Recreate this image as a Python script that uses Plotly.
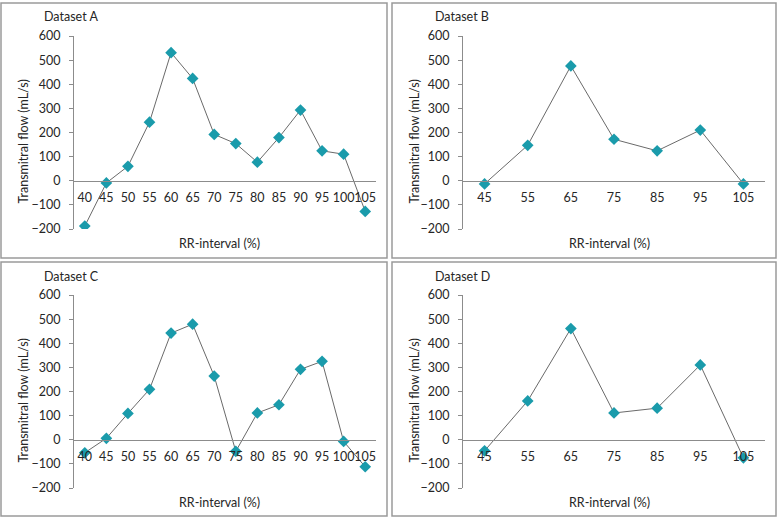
import plotly.graph_objects as go

# ---- data ----
rr_ac = ["40", "45", "50", "55", "60", "65", "70", "75", "80", "85", "90", "95", "100", "105"]
rr_bd = ["45", "55", "65", "75", "85", "95", "105"]

flow_a = [-188, -9, 60, 243, 531, 424, 192, 154, 77, 179, 293, 124, 110, -127]
flow_b = [-13, 147, 476, 172, 124, 210, -13]
flow_c = [-54, 6, 109, 209, 442, 479, 264, -48, 111, 145, 292, 325, -7, -112]
flow_d = [-46, 161, 461, 111, 131, 310, -75]

titles = ["Dataset A", "Dataset B", "Dataset C", "Dataset D"]
y_ticks = [-200, -100, 0, 100, 200, 300, 400, 500, 600]

W, H = 779, 519
FONT = "Lato"
GRAY = "#8c8c8c"
TXT = "#262626"

def px(x):
    return x / W

def py(y):
    return 1 - y / H

# panel layout in pixels: (box, plot area)
panels = [
    dict(box=(1, 3, 387, 258), plot=(74, 36, 376, 229), x=rr_ac, y=flow_a),
    dict(box=(392, 3, 776, 258), plot=(463, 36, 765, 229), x=rr_bd, y=flow_b),
    dict(box=(1, 262, 387, 516), plot=(74, 295, 376, 488), x=rr_ac, y=flow_c),
    dict(box=(392, 262, 776, 516), plot=(463, 295, 765, 488), x=rr_bd, y=flow_d),
]

fig = go.Figure()
shapes = []
annotations = []
ymin, ymax = -200, 600

for i, p in enumerate(panels):
    n = i + 1
    xa = "x" if n == 1 else f"x{n}"
    ya = "y" if n == 1 else f"y{n}"
    x0, y0, x1, y1 = p["plot"]
    ydom = [py(y1), py(y0)]
    xdom = [px(x0), px(x1)]
    zero_pos = ydom[0] + (ydom[1] - ydom[0]) * (0 - ymin) / (ymax - ymin)

    fig.add_trace(go.Scatter(
        x=p["x"], y=p["y"], xaxis=xa, yaxis=ya, mode="lines+markers",
        line=dict(color="#6a6a6a", width=1),
        marker=dict(symbol="diamond", size=9, color="#1a9bab"),
        showlegend=False, hoverinfo="x+y",
    ))

    xkey = "xaxis" if n == 1 else f"xaxis{n}"
    ykey = "yaxis" if n == 1 else f"yaxis{n}"
    fig.update_layout({
        xkey: dict(
            domain=xdom, type="category", range=[-0.5, len(p["x"]) - 0.5],
            anchor="free", position=zero_pos, showline=True, linecolor=GRAY,
            linewidth=1, ticks="", showgrid=False, zeroline=False,
            tickangle=0, ticklabelstandoff=5,
            tickfont=dict(family=FONT, size=12.5, color=TXT), automargin=False,
        ),
        ykey: dict(
            domain=ydom, range=[ymin, ymax], tickvals=y_ticks,
            anchor=xa, showline=True, linecolor=GRAY, linewidth=1,
            ticks="outside", ticklen=4, tickcolor=GRAY, showgrid=False,
            ticklabelstandoff=6,
            zeroline=False, tickfont=dict(family=FONT, size=12.5, color=TXT),
            automargin=False,
        ),
    })

    bx0, by0, bx1, by1 = p["box"]
    shapes.append(dict(
        type="rect", xref="paper", yref="paper",
        x0=px(bx0), x1=px(bx1), y0=py(by1), y1=py(by0),
        line=dict(color="#9a9a9a", width=1.5), fillcolor="rgba(0,0,0,0)",
    ))
    annotations.append(dict(
        text=titles[i], xref="paper", yref="paper",
        x=px(bx0 + 41), y=py(by0 + 14), xanchor="left", yanchor="middle",
        showarrow=False, font=dict(family=FONT, size=12.5, color=TXT),
    ))
    annotations.append(dict(
        text="RR-interval (%)", xref="paper", yref="paper",
        x=px((x0 + x1) / 2 - 5), y=py(y1 + 14), xanchor="center", yanchor="middle",
        showarrow=False, font=dict(family=FONT, size=12.5, color=TXT),
    ))
    annotations.append(dict(
        text="Transmitral flow (mL/s)", xref="paper", yref="paper",
        x=px(bx0 + 22), y=py((y0 + y1) / 2 + 9), xanchor="center", yanchor="middle",
        textangle=-90, showarrow=False, font=dict(family=FONT, size=12.5, color=TXT),
    ))

fig.update_layout(
    width=W, height=H, margin=dict(l=0, r=0, t=0, b=0),
    paper_bgcolor="white", plot_bgcolor="white",
    shapes=shapes, annotations=annotations,
)

fig.write_html(
    "out.html",
    config={"displayModeBar": False},
    post_script="document.body.style.margin='0';document.body.style.overflow='hidden';",
)
